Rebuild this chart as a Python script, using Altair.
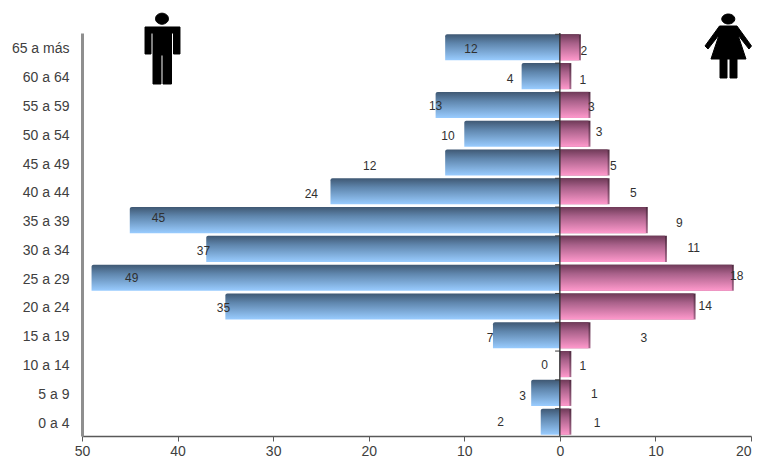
import altair as alt
import pandas as pd

ages = ["65 a más", "60 a 64", "55 a 59", "50 a 54", "45 a 49", "40 a 44", "35 a 39",
        "30 a 34", "25 a 29", "20 a 24", "15 a 19", "10 a 14", "5 a 9", "0 a 4"]
male = [12, 4, 13, 10, 12, 24, 45, 37, 49, 35, 7, 0, 3, 2]
female = [2, 1, 3, 3, 5, 5, 9, 11, 18, 14, 3, 1, 1, 1]
# where the source chart left each data label, in axis units
male_label_at = [-9.3, -5.2, -13.0, -11.7, -19.9, -26.0, -42.0, -37.3, -44.8, -35.2, -7.3, -1.6, -3.9, -6.2]
female_label_at = [2.5, 2.4, 3.3, 4.1, 5.6, 7.7, 12.5, 14.0, 18.5, 15.2, 8.8, 2.4, 3.6, 3.9]
male_label_dy = [0, 2, 0, 1, 2, 1, -3, 1, -1, 0, 1, 0, 2, -1]
female_label_dy = [2, 3, 1, -3, 2, 0, 2, -2, -3, -2, 1, 1, 0, 0]
x_ticks = [-50, -40, -30, -20, -10, 0, 10, 20]

FONT = "Liberation Sans"
BLUE = alt.Gradient(gradient="linear", x1=0, x2=0, y1=0, y2=1, stops=[
    alt.GradientStop(offset=0, color="#3f5873"),
    alt.GradientStop(offset=0.35, color="#5f86ad"),
    alt.GradientStop(offset=1, color="#99ccff")])
PINK = alt.Gradient(gradient="linear", x1=0, x2=0, y1=0, y2=1, stops=[
    alt.GradientStop(offset=0, color="#6f3a58"),
    alt.GradientStop(offset=0.35, color="#a9618a"),
    alt.GradientStop(offset=1, color="#ff99cc")])
EDGE = alt.Gradient(gradient="linear", x1=0, x2=0, y1=0, y2=1, stops=[
    alt.GradientStop(offset=0, color="#4f2a40"),
    alt.GradientStop(offset=1, color="#a8688c")])

HALF_BAND = 14.4
df = pd.DataFrame({
    "age": ages,
    "m": [-v for v in male],
    "f": female,
    "f_edge": [v + 0.2 for v in female],
    "m_at": male_label_at,
    "f_at": female_label_at,
    "m_dy": [d + HALF_BAND for d in male_label_dy],
    "f_dy": [d + HALF_BAND for d in female_label_dy],
    "m_txt": male,
    "f_txt": female,
})

x_scale = alt.Scale(domain=[-50, 20], nice=False, zero=False)
y_scale = alt.Scale(domain=ages, paddingInner=0.095, paddingOuter=0.045)
x_axis = alt.Axis(
    values=x_ticks, labelExpr="abs(datum.value)", grid=False, domainColor="#595959", domainWidth=1.5,
    tickColor="#595959", tickSize=5, tickWidth=1, labelFont=FONT, labelFontSize=14,
    labelColor="#404040", labelPadding=3, labelFlush=False, labelOverlap=False,
    labelAlign={"condition": {"test": "datum.value === 20", "value": "right"}, "value": "center"})
y_axis = alt.Axis(
    ticks=False, grid=False, domainColor="#8f8f8f", domainWidth=3, labelFont=FONT, labelFontSize=14,
    labelColor="#404040", labelPadding=13, labelOffset=2)
Y = alt.Y("age:N", scale=y_scale, sort=ages, title=None, axis=y_axis)

base = alt.Chart(df)
male_bars = base.mark_bar(fill=BLUE, cornerRadiusTopLeft=2, orient="horizontal").encode(
    x=alt.X("m:Q", scale=x_scale, stack=None, axis=x_axis, title=None), y=Y)
edge_bars = base.mark_bar(fill=EDGE, orient="horizontal").encode(
    x=alt.X("f_edge:Q", stack=None), y=alt.Y("age:N", scale=y_scale, sort=ages))
female_bars = base.mark_bar(fill=PINK, orient="horizontal").encode(
    x=alt.X("f:Q", stack=None), y=alt.Y("age:N", scale=y_scale, sort=ages))
zero_line = alt.Chart(pd.DataFrame({"z": [0]})).mark_rule(color="#2b2b2b", strokeWidth=1.3).encode(x="z:Q")
notches = base.mark_rule(color="#3a3a3a", strokeWidth=1).encode(
    x=alt.datum(-0.5), x2=alt.datum(0),
    y=alt.Y("age:N", scale=y_scale, sort=ages, bandPosition=0))
m_text = base.mark_text(font=FONT, fontSize=12, color="#303030").encode(
    x=alt.X("m_at:Q"), y=alt.Y("age:N", scale=y_scale, sort=ages),
    yOffset=alt.YOffset("m_dy:Q", scale=None), text="m_txt:Q")
f_text = base.mark_text(font=FONT, fontSize=12, color="#303030").encode(
    x=alt.X("f_at:Q"), y=alt.Y("age:N", scale=y_scale, sort=ages),
    yOffset=alt.YOffset("f_dy:Q", scale=None), text="f_txt:Q")


def icon(cx, cy, k, head, polygon):
    def p(x, y):
        return f"{(x - cx) / k:.3f} {(y - cy) / k:.3f}"
    hx, hy, rx, ry = head
    path = f"M{p(hx - rx, hy)}A{rx / k:.3f} {ry / k:.3f} 0 1 1 {p(hx + rx, hy)}A{rx / k:.3f} {ry / k:.3f} 0 1 1 {p(hx - rx, hy)}Z"
    path += "M" + "L".join(p(x, y) for x, y in polygon) + "Z"
    return path


man_poly = [(145, 27), (180, 27), (180, 54), (173.5, 54), (173.5, 33), (171.5, 33), (171.5, 84), (163, 84),
            (163, 55), (161, 55), (161, 84), (153, 84), (153, 33), (151, 33), (151, 54), (145, 54)]
woman_poly = [(719.5, 26), (737, 26), (751.5, 46), (749, 49), (738, 35), (746, 59), (737, 59), (737, 78),
              (730, 78), (730, 59), (727, 59), (727, 78), (720, 78), (720, 59), (711, 59), (719, 35),
              (708, 49), (705, 46)]
one = pd.DataFrame({"a": [1]})
man = alt.Chart(one).mark_point(
    shape=icon(162, 50, 37, (162, 18.7, 6.5, 5.5), man_poly), size=74 ** 2, filled=True, fill="black",
    opacity=1, stroke="black", strokeWidth=1, strokeJoin="round").encode(x=alt.value(80), y=alt.value(17))
woman = alt.Chart(one).mark_point(
    shape=icon(728.3, 46.5, 37, (728.3, 19, 6.5, 5), woman_poly), size=74 ** 2, filled=True, fill="black",
    opacity=1, stroke="black", strokeWidth=1, strokeJoin="round").encode(x=alt.value(646.3), y=alt.value(13.5))

chart = alt.layer(male_bars, edge_bars, female_bars, notches, zero_line, m_text, f_text, man, woman).properties(
    width=669, height=403, autosize=alt.AutoSizeParams(type="none"),
    padding={"left": 74, "top": 25, "right": 1, "bottom": 22},
    background="white",
).configure_view(stroke=None)

chart.save("out.html", embed_options={"renderer": "svg", "actions": False})
